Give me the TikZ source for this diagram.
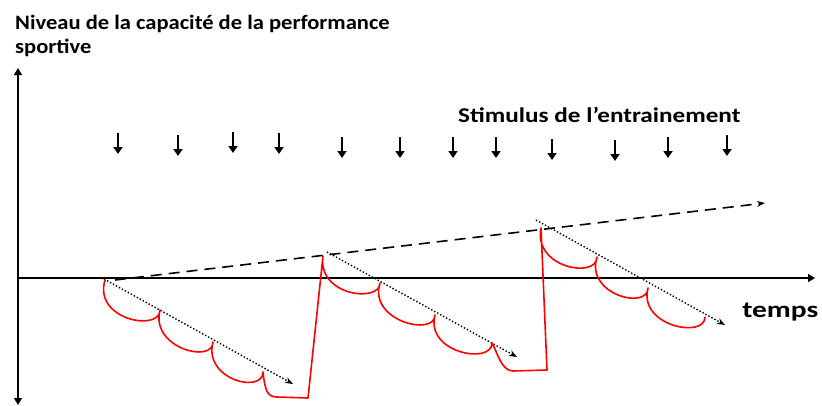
\documentclass[tikz,border=0pt]{standalone}
\usepackage{fontspec}
\setmainfont{Carlito}
\usepackage{xcolor}
\colorlet{colCurve}{red}
\colorlet{colAxis}{black}
\usepackage{tikz}
\usetikzlibrary{arrows.meta, positioning, calc}

\begin{document}
\begin{tikzpicture}[x=1pt, y=-1pt,
    axisline/.style={line width=1.6pt, colAxis},
    stimarrow/.style={line width=2.4pt, -{Triangle[width=9pt,length=7pt]}},
    trend/.style={line width=1.6pt, dash pattern=on 11pt off 7pt, -{Stealth[length=8pt]}},
    decay/.style={line width=1.4pt, dotted, -{Stealth[length=8pt]}},
    curve/.style={line width=1.6pt, colCurve, line join=round},
    lbl/.style={font=\bfseries, inner sep=0pt}]
				\useasboundingbox (0,0) rectangle (822,405);
				% axes
				\coordinate (ybot) at (18,405);
				\coordinate (ytop) at (18,68);
				\coordinate (xorig) at (18,278);
				\coordinate (xend) at (815,278);
				\draw[axisline, {Triangle[width=8pt,length=7pt]}-{Triangle[width=8pt,length=7pt]}] (ybot) -- (ytop);
				\draw[axisline, -{Triangle[width=8pt,length=7pt]}] (xorig) -- (xend);
				\node[lbl, font=\fontsize{20.5}{24}\selectfont\bfseries, xscale=1.1, anchor=base west] (title) at (15,29) {Niveau de la capacité de la performance};
				\node[lbl, font=\fontsize{20.5}{24}\selectfont\bfseries, xscale=1.1, anchor=base west] (title2) at (15,53) {sportive};
				\node[lbl, font=\fontsize{23}{26}\selectfont\bfseries, xscale=1.28, anchor=base west] (temps) at (742,317) {temps};
				\node[lbl, font=\fontsize{21}{24}\selectfont\bfseries, xscale=1.2, anchor=base west] (stim) at (458,122) {Stimulus de l’entrainement};
				% stimulus arrows
				\foreach \x/\y [count=\i] in {118/133, 178/135, 233/132, 279/133, 342/137, 400/137, 453/137, 496/137, 552/139, 615/140, 668/137, 727/135}{
					\coordinate (s\i) at (\x,\y);
					\draw[stimarrow] (s\i) -- ++(0,21);
				}
				% trend of performance
				\coordinate (trendA) at (115,280);
				\coordinate (trendB) at (765,203);
				\draw[trend] (trendA) -- (trendB);
				% peaks and lows
				\coordinate (p1) at (105,280);
				\coordinate (p2) at (323,256);
				\coordinate (p3) at (541,228);
				\draw[decay] (104,279) -- (293,384);
				\draw[decay] (327,252) -- (517,357);
				\draw[decay] (536,220) -- (725,325);
				% fatigue and recovery
				\draw[curve] (p1) .. controls +(-12,40) and +(0,22) .. (160,310)
					.. controls +(-10,38) and +(0,22) .. (213,342)
					.. controls +(-10,38) and +(0,22) .. (263,372)
					.. controls +(2,18) and +(-10,0) .. (277,397) -- (308,398) -- (p2)
					.. controls +(-6,40) and +(0,20) .. (380,283)
					.. controls +(-12,38) and +(0,22) .. (435,315)
					.. controls +(-10,38) and +(0,22) .. (492,343)
					.. controls +(5,8) and +(-12,0) .. (513,371) -- (547,370) -- (p3)
					.. controls +(-8,40) and +(0,22) .. (597,257)
					.. controls +(-12,38) and +(0,22) .. (648,288)
					.. controls +(-10,38) and +(0,22) .. (705,317);
			\end{tikzpicture}
\end{document}
